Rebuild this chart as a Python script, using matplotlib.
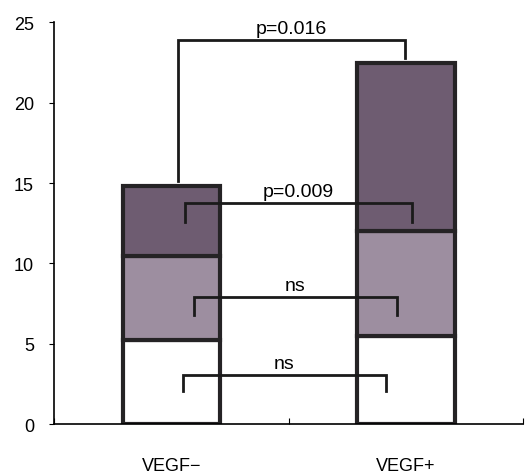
import matplotlib
matplotlib.use("Agg")
import matplotlib.pyplot as plt

plt.rcParams['font.family'] = ['Liberation Sans', 'DejaVu Sans']

groups = ["VEGF\u2212", "VEGF+"]
low_part = [5.2, 5.5]
mid_part = [5.25, 6.5]
top_part = [4.35, 10.5]
seg_colors = ["white", "#9d8ea0", "#6e5c71"]

# brackets: (x_left, x_right, y_bar, y_leg_left, y_leg_right, label)
brackets = [
    (0.527, 1.495, 23.9, 15.1, 22.8, "p=0.016"),
    (0.556, 1.524, 13.75, 12.6, 12.6, "p=0.009"),
    (0.594, 1.461, 7.9, 6.8, 6.8, "ns"),
    (0.548, 1.414, 3.05, 2.05, 2.05, "ns"),
]

fig = plt.figure(figsize=(5.26, 4.77), dpi=100)
ax = fig.add_axes([0.103, 0.109, 0.892, 0.842])

xpos = [0.5, 1.5]
bottom = [0, 0]
for part, col in zip([low_part, mid_part, top_part], seg_colors):
    ax.bar(xpos, part, bottom=bottom, width=0.415, color=col,
           edgecolor="#252325", linewidth=3, zorder=2)
    bottom = [b + p for b, p in zip(bottom, part)]

for xl, xr, yb, yl, yr, lab in brackets:
    ax.plot([xl, xl, xr, xr], [yl, yb, yb, yr], color="#1a1a1a",
            linewidth=2, solid_joinstyle="miter", zorder=3)
    ax.text((xl + xr) / 2, yb + 0.2, lab, ha="center", va="bottom",
            fontsize=14, zorder=4)

ax.set_xlim(0, 2)
ax.set_ylim(0, 25)
ax.set_yticks([0, 5, 10, 15, 20, 25])
ax.tick_params(axis="y", direction="out", length=3.6, labelsize=13, pad=11)
ax.set_xticks([0, 1, 2])
ax.set_xticklabels([])
ax.tick_params(axis="x", which="major", direction="in", length=4)
ax.set_xticks(xpos, minor=True)
ax.set_xticklabels(groups, minor=True)
ax.tick_params(axis="x", which="minor", length=0, labelsize=13, pad=24)

for s in ["top", "right"]:
    ax.spines[s].set_visible(False)
ax.spines["left"].set_linewidth(1.2)
ax.spines["bottom"].set_linewidth(1.2)

fig.savefig("out.png", dpi=100)
